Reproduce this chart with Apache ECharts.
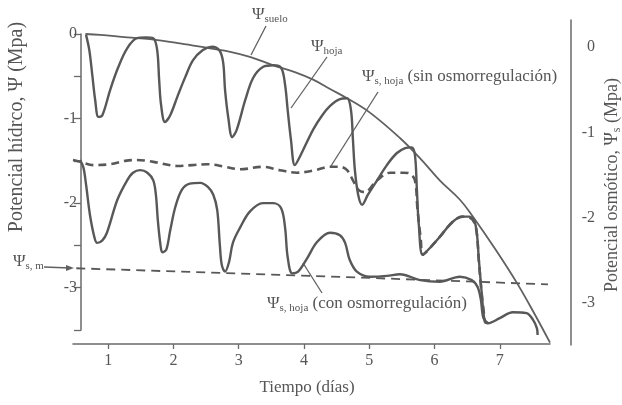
<!DOCTYPE html>
<html><head><meta charset="utf-8">
<script src="https://cdn.jsdelivr.net/npm/echarts@6/dist/echarts.min.js"></script>
<style>html,body{margin:0;padding:0;background:#fff}#c{width:622px;height:405px}</style>
</head><body><div id="c"></div>
<script>
// ---- data (days, MPa) ----
const xTicks = [1, 2, 3, 4, 5, 6, 7];
const leftTicks = [0, -1, -2, -3];
const rightTicks = [0, -1, -2, -3];

const psiSuelo = [[0.65,0],[0.88,-0.01],[1.29,-0.04],[1.64,-0.06],[2.10,-0.11],[2.56,-0.17],[2.87,-0.21],[3.17,-0.27],[3.53,-0.37],[3.86,-0.45],[4.14,-0.54],[4.40,-0.65],[4.66,-0.76],[5.01,-0.93],[5.47,-1.23],[5.78,-1.47],[6.08,-1.73],[6.39,-1.96],[6.59,-2.16],[6.92,-2.53],[7.26,-2.94],[7.54,-3.32],[7.77,-3.65]];

const psiHoja = [[0.66,-0.01],[0.71,-0.19],[0.755,-0.48],[0.80,-0.78],[0.85,-0.98],[0.91,-0.96],[1.03,-0.66],[1.15,-0.40],[1.29,-0.17],[1.44,-0.05],[1.57,-0.04],[1.69,-0.05],[1.75,-0.19],[1.78,-0.54],[1.81,-0.84],[1.87,-1.04],[1.95,-0.96],[2.06,-0.74],[2.18,-0.51],[2.30,-0.31],[2.45,-0.19],[2.59,-0.15],[2.70,-0.19],[2.76,-0.33],[2.79,-0.66],[2.84,-0.99],[2.90,-1.22],[2.97,-1.13],[3.10,-0.78],[3.22,-0.52],[3.37,-0.39],[3.53,-0.37],[3.65,-0.40],[3.71,-0.60],[3.75,-0.90],[3.80,-1.25],[3.86,-1.55],[3.95,-1.43],[4.14,-1.13],[4.28,-0.96],[4.40,-0.85],[4.55,-0.77],[4.66,-0.76],[4.72,-0.90],[4.75,-1.25],[4.78,-1.61],[4.83,-1.90],[4.89,-2.02],[4.98,-1.90],[5.12,-1.73],[5.27,-1.55],[5.42,-1.41],[5.55,-1.35],[5.65,-1.34],[5.70,-1.43],[5.73,-1.84],[5.76,-2.26],[5.82,-2.61],[5.93,-2.53],[6.08,-2.40],[6.28,-2.22],[6.43,-2.16],[6.54,-2.16],[6.63,-2.26],[6.68,-2.67],[6.72,-3.03],[6.77,-3.40],[6.82,-3.42],[7.00,-3.36],[7.20,-3.29],[7.41,-3.30],[7.51,-3.38],[7.57,-3.48],[7.58,-3.56]];

const psiSHojaCon = [[0.57,-1.49],[0.62,-1.58],[0.66,-1.78],[0.72,-2.14],[0.79,-2.41],[0.83,-2.47],[0.91,-2.44],[0.98,-2.35],[1.14,-1.96],[1.29,-1.73],[1.38,-1.64],[1.49,-1.61],[1.60,-1.64],[1.69,-1.73],[1.73,-1.90],[1.76,-2.20],[1.80,-2.49],[1.83,-2.58],[1.89,-2.55],[1.95,-2.32],[2.03,-2.04],[2.13,-1.84],[2.25,-1.77],[2.41,-1.76],[2.53,-1.81],[2.61,-1.90],[2.67,-2.08],[2.71,-2.49],[2.74,-2.73],[2.79,-2.81],[2.85,-2.70],[2.91,-2.47],[3.02,-2.29],[3.17,-2.10],[3.37,-2.00],[3.53,-2.00],[3.65,-2.06],[3.71,-2.29],[3.75,-2.64],[3.82,-2.83],[3.91,-2.81],[4.05,-2.65],[4.20,-2.46],[4.40,-2.35],[4.55,-2.38],[4.63,-2.47],[4.70,-2.67],[4.81,-2.81],[5.01,-2.87],[5.27,-2.86],[5.47,-2.84],[5.78,-2.91],[6.08,-2.93],[6.39,-2.87],[6.57,-2.91],[6.66,-2.99],[6.71,-3.14],[6.75,-3.36],[6.82,-3.42]];

const psiSHojaSin = [[0.46,-1.49],[0.57,-1.51],[0.77,-1.55],[1.03,-1.54],[1.26,-1.50],[1.44,-1.49],[1.60,-1.50],[1.75,-1.52],[2.06,-1.56],[2.29,-1.55],[2.52,-1.54],[2.79,-1.57],[3.02,-1.60],[3.37,-1.57],[3.63,-1.61],[3.89,-1.64],[4.17,-1.61],[4.40,-1.57],[4.55,-1.57],[4.66,-1.61],[4.75,-1.73],[4.83,-1.84],[4.93,-1.87],[5.12,-1.73],[5.32,-1.64],[5.52,-1.64],[5.62,-1.65],[5.70,-1.73],[5.74,-2.08],[5.79,-2.43],[5.82,-2.61],[5.93,-2.53],[6.08,-2.40],[6.28,-2.22],[6.43,-2.16],[6.54,-2.17],[6.63,-2.27],[6.68,-2.69],[6.72,-3.05],[6.77,-3.38]];

const psiSm = [[0.51,-2.77],[4.12,-2.86],[7.74,-2.96]];

// ---- chart ----
const FONT = "'Liberation Serif','Times New Roman',serif";
const INK = '#555';
const LINE = '#585858';
const AX = '#6a6a6a';
const chart = echarts.init(document.getElementById('c'), null, {renderer: 'canvas'});

function lineSeries(data, opt) {
  return Object.assign({
    type: 'line', data: data, xAxisIndex: 0, yAxisIndex: 0,
    showSymbol: false, symbol: 'none', smooth: 0.35, clip: false,
    silent: true, animation: false,
    lineStyle: {color: LINE, width: 2.4}
  }, opt);
}

const rich = {
  a: {fontSize: 17, fontFamily: FONT, fill: INK, lineHeight: 20},
  b: {fontSize: 11, fontFamily: FONT, fill: INK, lineHeight: 14, verticalAlign: 'bottom'}
};
const richTitle = {
  a: {fontSize: 18, fontFamily: FONT, fill: INK, lineHeight: 22},
  b: {fontSize: 12, fontFamily: FONT, fill: INK, lineHeight: 15, verticalAlign: 'bottom'}
};

const option = {
  backgroundColor: '#fff',
  animation: false,
  grid: [
    {left: 73, right: 72, top: 34, height: 296},
    {left: 73, right: 51, top: 20, bottom: 60}
  ],
  xAxis: [
    {type: 'value', gridIndex: 0, min: 0.46, max: 7.77, offset: 14, position: 'bottom',
     axisLine: {show: true, onZero: false, lineStyle: {color: AX, width: 1.5}},
     axisTick: {show: true, customValues: xTicks, length: 5, lineStyle: {color: AX, width: 1.3}},
     axisLabel: {customValues: xTicks, margin: 9, fontSize: 16, fontFamily: FONT, color: INK},
     splitLine: {show: false}},
    {type: 'value', gridIndex: 1, min: 0, max: 1, show: false}
  ],
  yAxis: [
    {type: 'value', gridIndex: 0, min: -3.5, max: 0, interval: 0.5, offset: -8, position: 'left',
     axisLine: {show: true, onZero: false, lineStyle: {color: AX, width: 1.5}},
     axisTick: {show: true, length: 7, lineStyle: {color: AX, width: 1.3}},
     axisLabel: {customValues: leftTicks, margin: 4, fontSize: 16, fontFamily: FONT, color: INK},
     splitLine: {show: false}},
    {type: 'value', gridIndex: 1, position: 'right', min: -3.492, max: 0.316,
     axisLine: {show: true, onZero: false, lineStyle: {color: AX, width: 1.5}},
     axisTick: {show: false},
     axisLabel: {customValues: rightTicks, margin: 24, align: 'right', fontSize: 16, fontFamily: FONT, color: INK},
     splitLine: {show: false}}
  ],
  series: [
    lineSeries(psiSm, {smooth: false, lineStyle: {color: LINE, width: 1.8, type: [9, 6]}}),
    lineSeries(psiSuelo, {smooth: 0.4, lineStyle: {color: '#606060', width: 1.8}}),
    lineSeries(psiHoja, {}),
    lineSeries(psiSHojaCon, {}),
    lineSeries(psiSHojaSin, {lineStyle: {color: LINE, width: 2.6, type: [8, 5]}})
  ],
  graphic: [
    {type: 'text', x: 17, y: 127, rotation: Math.PI / 2,
     style: {text: 'Potencial hídrco, Ψ (Mpa)', fontSize: 20, fontFamily: FONT, fill: INK, align: 'center', verticalAlign: 'middle'}},
    {type: 'text', x: 612, y: 185, rotation: Math.PI / 2,
     style: {text: '{a|Potencial osmótico, Ψ}{b|s}{a| (Mpa)}', rich: richTitle, align: 'center', verticalAlign: 'middle'}},
    {type: 'text', x: 307, y: 388,
     style: {text: 'Tiempo (días)', fontSize: 17, fontFamily: FONT, fill: INK, align: 'center', verticalAlign: 'middle'}},
    {type: 'text', x: 252, y: 15,
     style: {text: '{a|Ψ}{b|suelo}', rich: rich, align: 'left', verticalAlign: 'middle'}},
    {type: 'text', x: 311, y: 47,
     style: {text: '{a|Ψ}{b|hoja}', rich: rich, align: 'left', verticalAlign: 'middle'}},
    {type: 'text', x: 362, y: 77,
     style: {text: '{a|Ψ}{b|s, hoja}{a| (sin osmorregulación)}', rich: rich, align: 'left', verticalAlign: 'middle'}},
    {type: 'text', x: 267, y: 304,
     style: {text: '{a|Ψ}{b|s, hoja}{a| (con osmorregulación)}', rich: rich, align: 'left', verticalAlign: 'middle'}},
    {type: 'text', x: 13, y: 262,
     style: {text: '{a|Ψ}{b|s, m}', rich: rich, align: 'left', verticalAlign: 'middle'}},
    {type: 'line', shape: {x1: 266, y1: 26, x2: 251, y2: 55}, style: {stroke: '#606060', lineWidth: 1.3}},
    {type: 'line', shape: {x1: 327, y1: 57, x2: 291, y2: 108}, style: {stroke: '#606060', lineWidth: 1.3}},
    {type: 'line', shape: {x1: 378, y1: 92, x2: 331, y2: 166}, style: {stroke: '#606060', lineWidth: 1.3}},
    {type: 'line', shape: {x1: 322, y1: 293, x2: 303, y2: 263}, style: {stroke: '#606060', lineWidth: 1.3}},
    {type: 'line', shape: {x1: 44, y1: 267, x2: 70, y2: 268}, style: {stroke: '#606060', lineWidth: 1.3}},
    {type: 'polygon', shape: {points: [[74, 268], [66, 265], [66, 271]]}, style: {fill: '#606060'}}
  ]
};
chart.setOption(option);
</script>
</body></html>
